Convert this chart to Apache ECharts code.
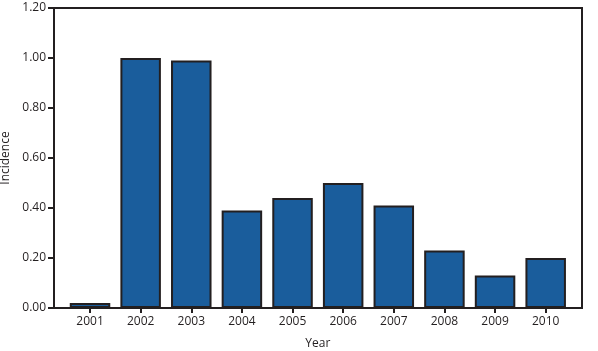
<!DOCTYPE html>
<html><head><meta charset="utf-8">
<script src="https://cdn.jsdelivr.net/npm/echarts@6/dist/echarts.min.js"></script>
<style>html,body{margin:0;padding:0;background:#fff}#c{width:598px;height:351px}</style>
</head><body><div id="c"></div>
<script>
const years = ['2001','2002','2003','2004','2005','2006','2007','2008','2009','2010'];
const incidence = [0.02, 1.00, 0.99, 0.39, 0.44, 0.50, 0.41, 0.23, 0.13, 0.20];
const yTicks = { min: 0, max: 1.2, interval: 0.2 };

const ink = '#231f20';
const font = '"Open Sans", "Noto Sans", sans-serif';
const chart = echarts.init(document.getElementById('c'));
chart.setOption({
  animation: false,
  grid: [
    { left: 54, top: 8, width: 528, height: 300, show: true, borderColor: ink, borderWidth: 2, backgroundColor: 'transparent', containLabel: false, outerBoundsMode: 'none' },
    { left: 64.7, top: 8, width: 506.3, height: 300, containLabel: false, outerBoundsMode: 'none' }
  ],
  xAxis: [
    { gridIndex: 0, type: 'value', min: 0, max: 1, show: false },
    { gridIndex: 1, type: 'category', data: years,
      name: 'Year', nameLocation: 'middle', nameGap: 30,
      nameTextStyle: { color: ink, fontFamily: font, fontSize: 12 },
      axisLine: { show: false },
      axisTick: { show: true, alignWithLabel: true, length: 5, lineStyle: { color: ink, width: 2 } },
      axisLabel: { color: ink, fontFamily: font, fontSize: 12, margin: 8 } }
  ],
  yAxis: [
    { gridIndex: 0, type: 'value', min: yTicks.min, max: yTicks.max, interval: yTicks.interval,
      name: 'Incidence', nameLocation: 'middle', nameGap: 39,
      nameTextStyle: { color: ink, fontFamily: font, fontSize: 12 },
      axisLine: { show: true, lineStyle: { color: ink, width: 2 } },
      axisTick: { show: true, length: 6, lineStyle: { color: ink, width: 2 } },
      splitLine: { show: false },
      axisLabel: { color: ink, fontFamily: font, fontSize: 12, margin: 8, formatter: v => v.toFixed(2) } },
    { gridIndex: 1, type: 'value', min: yTicks.min, max: yTicks.max, show: false, splitLine: { show: false } }
  ],
  series: [{
    type: 'bar', xAxisIndex: 1, yAxisIndex: 1, data: incidence,
    barWidth: '80%',
    itemStyle: { color: '#1a5d9c', borderColor: ink, borderWidth: 2 }
  }]
});
</script></body></html>
